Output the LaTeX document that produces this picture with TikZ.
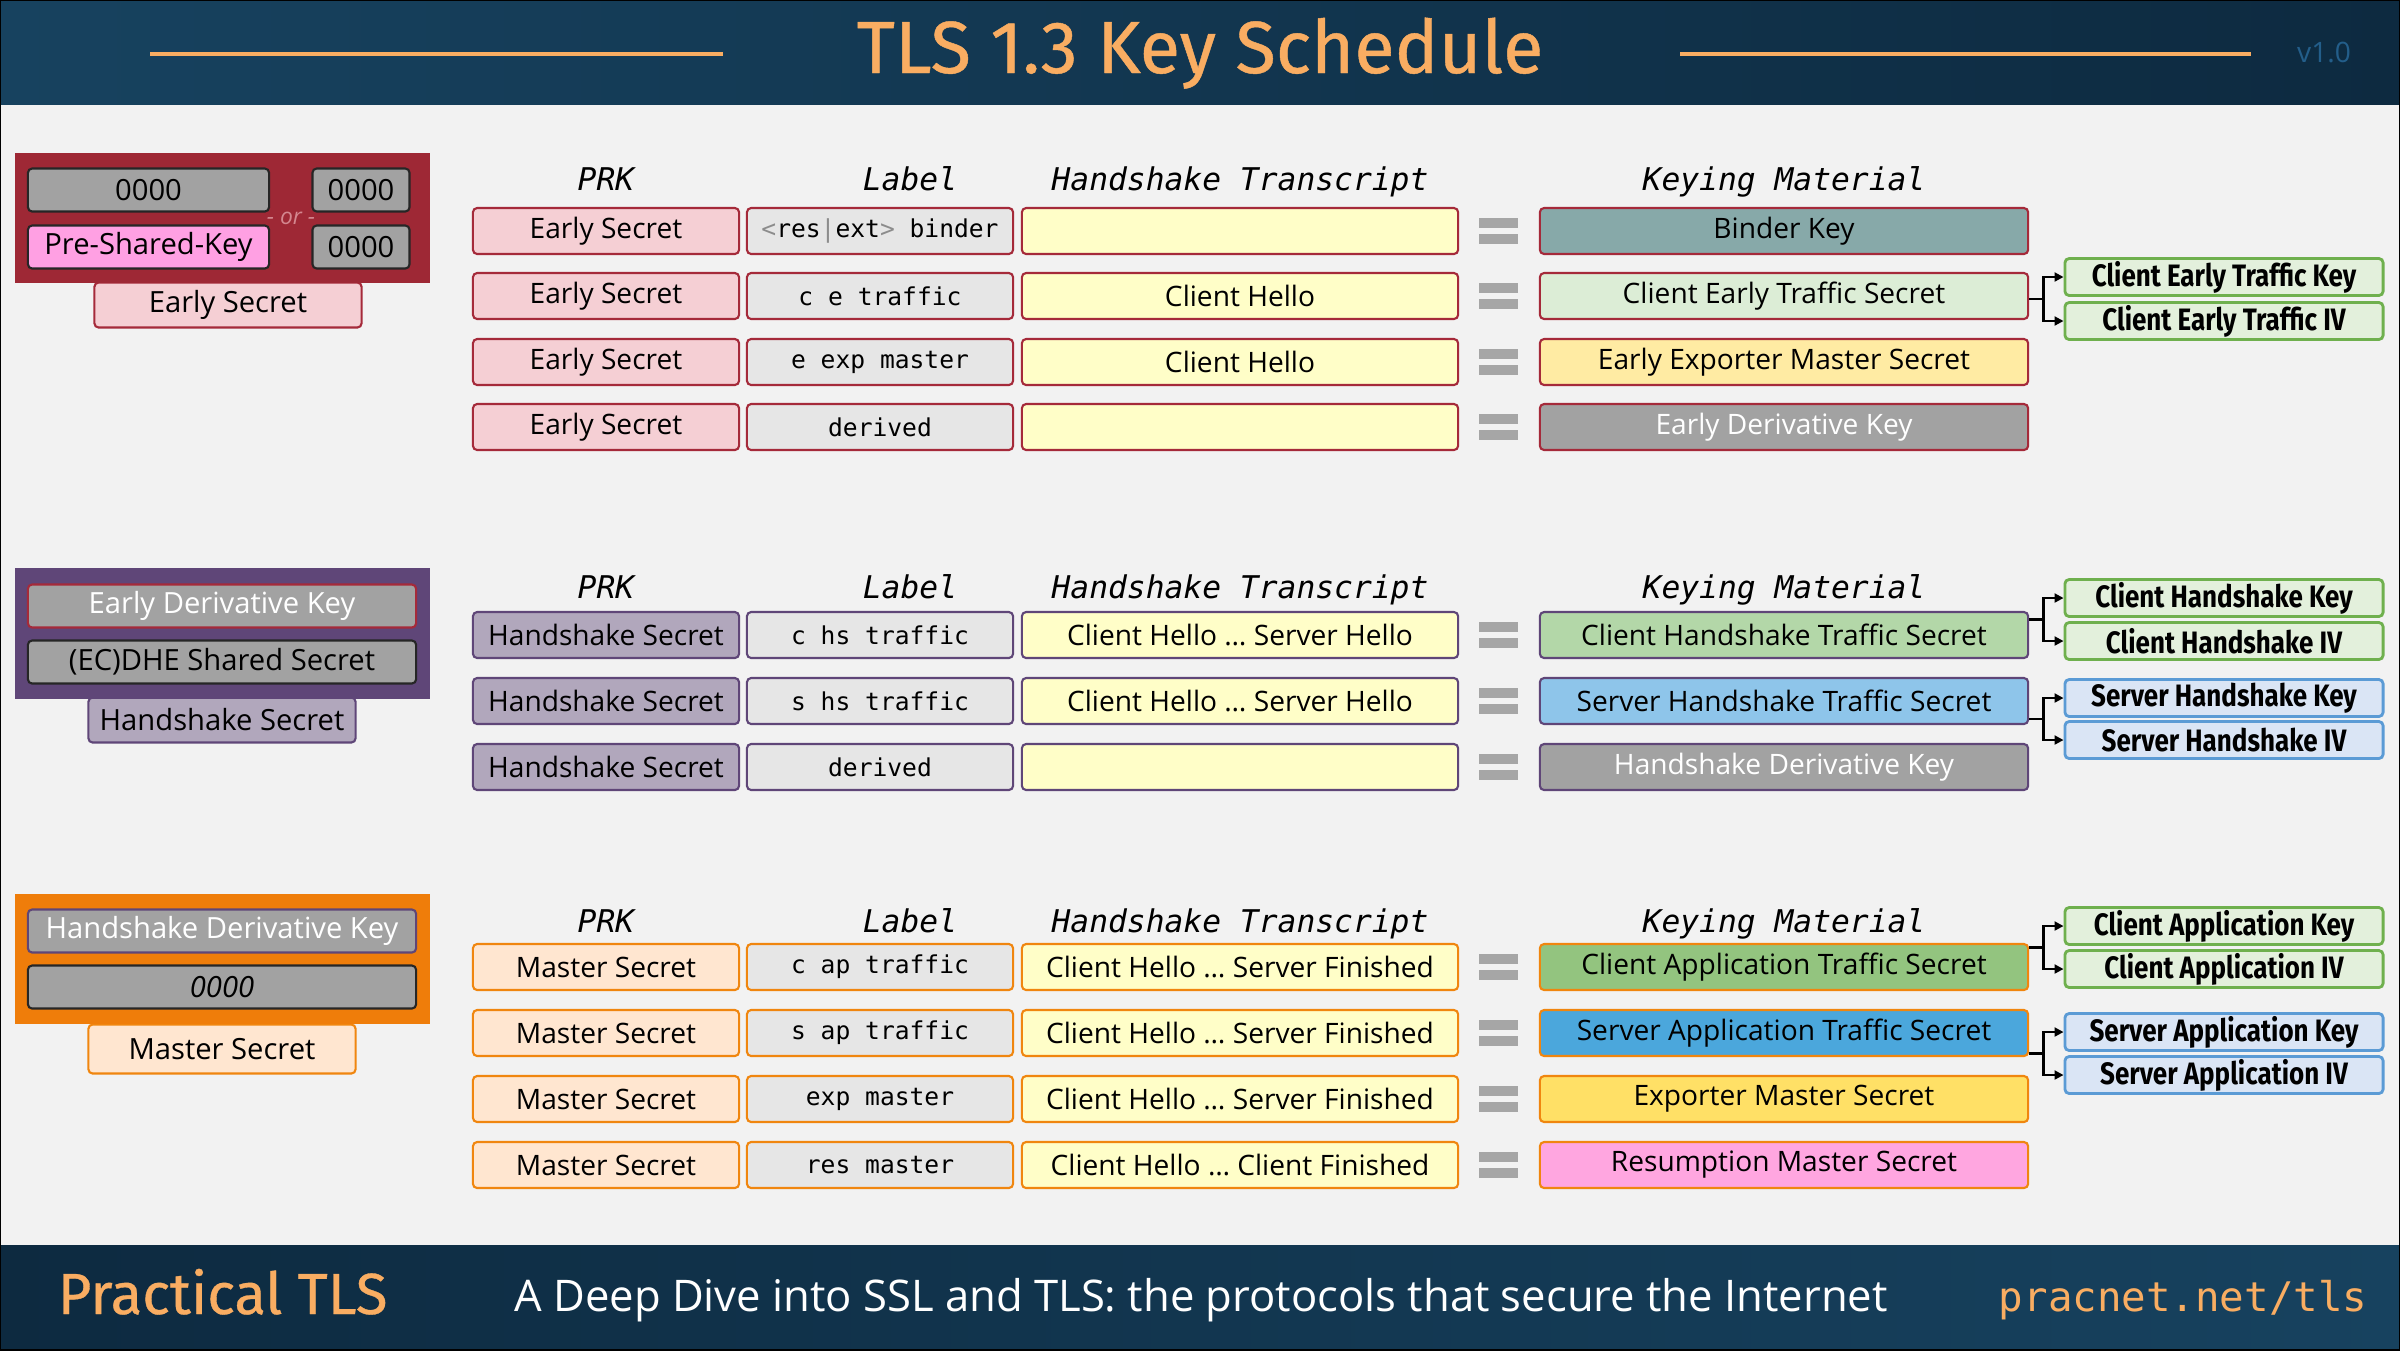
\documentclass[tikz,border=0pt]{standalone}
\usepackage{fontspec}
\setmainfont{Open Sans}
\newfontfamily\titlefont{Fira Sans}[FakeBold=0.6]
\newfontfamily\codefont{DejaVu Sans Mono}
\newfontfamily\keyfont{Fira Sans}[FakeStretch=0.84]
\usetikzlibrary{arrows.meta, positioning, calc}
\definecolor{hdrL}{HTML}{17425F}
\definecolor{hdrR}{HTML}{0D2A40}
\definecolor{tlsorange}{HTML}{F9AD62}
\definecolor{verblue}{HTML}{235E8A}
\definecolor{pagebg}{HTML}{F2F2F2}
\definecolor{esred}{HTML}{A52A3A}
\definecolor{esgroup}{HTML}{9E2835}
\definecolor{esfill}{HTML}{F5CFD4}
\definecolor{hspurple}{HTML}{5F4678}
\definecolor{hsfill}{HTML}{B1A7BC}
\definecolor{msorange}{HTML}{F0860F}
\definecolor{msgroup}{HTML}{EF7D0A}
\definecolor{msfill}{HTML}{FFE6D0}
\definecolor{lblfill}{HTML}{E6E6E6}
\definecolor{tscfill}{HTML}{FFFEC8}
\definecolor{binderc}{HTML}{87A9A9}
\definecolor{cetsc}{HTML}{DCEDD6}
\definecolor{eemsc}{HTML}{FFEBA3}
\definecolor{derivc}{HTML}{A2A2A2}
\definecolor{chtsc}{HTML}{B3D7A8}
\definecolor{shtsc}{HTML}{8EC5EA}
\definecolor{catsc}{HTML}{93C47F}
\definecolor{satsc}{HTML}{4BA7DC}
\definecolor{emsc}{HTML}{FFE066}
\definecolor{rmsc}{HTML}{FFA6E0}
\definecolor{pskc}{HTML}{FFA0E3}
\definecolor{keygreen}{HTML}{E3F0DC}
\definecolor{keygreenb}{HTML}{6FB04E}
\definecolor{keyblue}{HTML}{DAE5F5}
\definecolor{keyblueb}{HTML}{5B9BD5}
\definecolor{eqgray}{HTML}{A6A6A6}
\definecolor{orgray}{HTML}{D4878F}
\tikzset{
  cell/.style={draw, rounded corners=1.2pt, line width=0.6pt, minimum height=0.46cm,
               inner sep=0pt, font=\fontsize{8}{9}\selectfont},
  prkbox/.style={cell, minimum width=2.66cm},
  lblbox/.style={cell, fill=lblfill, minimum width=2.66cm, font=\codefont\fontsize{7}{8}\selectfont},
  tscbox/.style={cell, fill=tscfill, minimum width=4.36cm},
  kmbox/.style={cell, minimum width=4.88cm},
  keybox/.style={draw, rounded corners=1.2pt, line width=0.8pt, minimum width=3.18cm,
                 minimum height=0.37cm, inner sep=0pt, font=\keyfont\bfseries\fontsize{8.8}{9}\selectfont},
  gkey/.style={keybox, draw=keygreenb, fill=keygreen},
  bkey/.style={keybox, draw=keyblueb, fill=keyblue},
  colhead/.style={anchor=base, inner sep=0pt, font=\codefont\itshape\fontsize{8.9}{10}\selectfont},
  grpbox/.style={draw=none, minimum width=4.15cm, minimum height=1.30cm, inner sep=0pt},
  inbox/.style={draw=black!85, rounded corners=1.2pt, line width=0.6pt, fill=derivc, inner sep=0pt,
                minimum height=0.43cm, font=\fontsize{8.3}{9}\selectfont},
  outbox/.style={draw, rounded corners=1.2pt, line width=0.6pt, minimum width=2.67cm,
                 minimum height=0.45cm, inner sep=0pt, font=\fontsize{8.3}{9}\selectfont},
  splitarr/.style={-{Triangle[length=0.09cm,width=0.09cm]}, line width=0.6pt, black},
}

\begin{document}
\begin{tikzpicture}[x=0.01cm, y=-0.01cm]
  \useasboundingbox (0,0) rectangle (2400,1350);
  \fill[pagebg] (0,0) rectangle (2400,1350);

  % header and footer bands
  \shade[left color=hdrL, right color=hdrR] (0,0) rectangle (2400,104);
  \shade[left color=hdrR, right color=hdrL] (0,1245) rectangle (2400,1350);
  \node[anchor=base, inner sep=0pt, text=tlsorange, font=\titlefont\fontsize{21}{24}\selectfont]
    (title) at (1200,73) {TLS 1.3 Key Schedule};
  \draw[tlsorange, line width=1.4pt] (150,54) -- (723,54);
  \draw[tlsorange, line width=1.4pt] (1680,54) -- (2251,54);
  \node[anchor=base, inner sep=0pt, text=verblue, font=\fontsize{8}{9}\selectfont]
    (version) at (2324,62) {v1.0};
  \node[anchor=base west, inner sep=0pt, text=tlsorange, font=\titlefont\fontsize{16.5}{20}\selectfont]
    (book) at (57,1314) {Practical TLS};
  \node[anchor=base, inner sep=0pt, text=white, font=\fontsize{12.4}{14}\selectfont]
    (tagline) at (1201,1311) {A Deep Dive into SSL and TLS: the protocols that secure the Internet};
  \node[anchor=base east, inner sep=0pt, text=tlsorange, font=\codefont\fontsize{11.6}{14}\selectfont]
    (url) at (2368,1311) {pracnet.net/tls};

  % column headings
  \foreach \s/\y in {es/190, hs/598, ms/932} {
    \node[colhead] (\s-h1) at (606,\y) {PRK};
    \node[colhead] (\s-h2) at (910,\y) {Label};
    \node[colhead] (\s-h3) at (1240,\y) {Handshake Transcript};
    \node[colhead] (\s-h4) at (1784,\y) {Keying Material};
  }

  % equals signs
  \foreach \y in {231,296,362,427,635,701,767,967,1033,1099,1165} {
    \fill[eqgray] (1479,\y-13) rectangle (1518,\y-3);
    \fill[eqgray] (1479,\y+3) rectangle (1518,\y+13);
  }

  % early secret
  \node[outbox, draw=esred, fill=esfill] (es-out) at (228,305) {Early Secret};
  \node[grpbox, fill=esgroup] (es-grp) at (222.5,218) {};
  \node[inbox, minimum width=2.41cm] (es-z1) at (148.5,190) {0000};
  \node[inbox, minimum width=0.97cm] (es-z2) at (361,190) {0000};
  \node[inbox, fill=pskc, minimum width=2.41cm] (es-psk) at (148.5,247) {Pre-Shared-Key};
  \node[inbox, minimum width=0.97cm] (es-z3) at (361,247) {0000};
  \node[inner sep=0pt, text=orgray, font=\itshape\fontsize{6.5}{8}\selectfont] (es-or) at (291,218) {- or -};
  \foreach \n/\y/\lbl/\hs/\km/\kmc/\kmt in {
    1/231/{{\color{black!45}<}res{\color{black!45}|}ext{\color{black!45}>} binder}/{}/Binder Key/binderc/black,
    2/296/c e traffic/Client Hello/Client Early Traffic Secret/cetsc/black,
    3/362/e exp master/Client Hello/Early Exporter Master Secret/eemsc/black,
    4/427/derived/{}/Early Derivative Key/derivc/white} {
    \node[prkbox, draw=esred, fill=esfill] (es-p\n) at (606,\y) {Early Secret};
    \node[lblbox, draw=esred] (es-l\n) at (880,\y) {\lbl};
    \node[tscbox, draw=esred] (es-t\n) at (1240,\y) {\hs};
    \node[kmbox, draw=esred, fill=\kmc, text=\kmt] (es-k\n) at (1784,\y) {\km};
  }

  % handshake secret
  \node[outbox, draw=hspurple, fill=hsfill] (hs-out) at (222,720) {Handshake Secret};
  \node[grpbox, fill=hspurple] (hs-grp) at (222.5,633.5) {};
  \node[inbox, draw=esred, text=white, minimum width=3.88cm] (hs-edk) at (222,606) {Early Derivative Key};
  \node[inbox, minimum width=3.88cm] (hs-dhe) at (222,662) {(EC)DHE Shared Secret};
  \foreach \n/\y/\lbl/\hs/\km/\kmc/\kmt in {
    1/635/c hs traffic/Client Hello \dots{} Server Hello/Client Handshake Traffic Secret/chtsc/black,
    2/701/s hs traffic/Client Hello \dots{} Server Hello/Server Handshake Traffic Secret/shtsc/black,
    3/767/derived/{}/Handshake Derivative Key/derivc/white} {
    \node[prkbox, draw=hspurple, fill=hsfill] (hs-p\n) at (606,\y) {Handshake Secret};
    \node[lblbox, draw=hspurple] (hs-l\n) at (880,\y) {\lbl};
    \node[tscbox, draw=hspurple] (hs-t\n) at (1240,\y) {\hs};
    \node[kmbox, draw=hspurple, fill=\kmc, text=\kmt] (hs-k\n) at (1784,\y) {\km};
  }

  % master secret
  \node[outbox, draw=msorange, fill=msfill, minimum height=0.49cm] (ms-out) at (222,1049) {Master Secret};
  \node[grpbox, fill=msgroup] (ms-grp) at (222.5,959) {};
  \node[inbox, draw=hspurple, text=white, minimum width=3.88cm] (ms-hdk) at (222,931) {Handshake Derivative Key};
  \node[inbox, minimum width=3.88cm, font=\itshape\fontsize{8.3}{9}\selectfont] (ms-zero) at (222,987) {0000};
  \foreach \n/\y/\lbl/\hs/\km/\kmc in {
    1/967/c ap traffic/Client Hello \dots{} Server Finished/Client Application Traffic Secret/catsc,
    2/1033/s ap traffic/Client Hello \dots{} Server Finished/Server Application Traffic Secret/satsc,
    3/1099/exp master/Client Hello \dots{} Server Finished/Exporter Master Secret/emsc,
    4/1165/res master/Client Hello \dots{} Client Finished/Resumption Master Secret/rmsc} {
    \node[prkbox, draw=msorange, fill=msfill] (ms-p\n) at (606,\y) {Master Secret};
    \node[lblbox, draw=msorange] (ms-l\n) at (880,\y) {\lbl};
    \node[tscbox, draw=msorange] (ms-t\n) at (1240,\y) {\hs};
    \node[kmbox, draw=msorange, fill=\kmc] (ms-k\n) at (1784,\y) {\km};
  }

  % traffic keys and IVs
  \node[gkey] (cetk) at (2224,277) {Client Early Traffic Key};
  \node[gkey] (ceti) at (2224,321) {Client Early Traffic IV};
  \node[gkey] (chk) at (2224,598) {Client Handshake Key};
  \node[gkey] (chi) at (2224,641) {Client Handshake IV};
  \node[bkey] (shk) at (2224,698) {Server Handshake Key};
  \node[bkey] (shi) at (2224,740) {Server Handshake IV};
  \node[gkey] (cak) at (2224,926) {Client Application Key};
  \node[gkey] (cai) at (2224,969) {Client Application IV};
  \node[bkey] (sak) at (2224,1032) {Server Application Key};
  \node[bkey] (sai) at (2224,1075) {Server Application IV};
  \foreach \k/\a/\b in {es-k2/cetk/ceti, hs-k1/chk/chi, hs-k2/shk/shi, ms-k1/cak/cai, ms-k2/sak/sai} {
    \coordinate (j) at ($(\a.west)!0.5!(\b.west) + (-20,0)$);
    \draw[splitarr] (\k.east |- j) -- (j) |- (\a.west);
    \draw[splitarr] (j) |- (\b.west);
  }

  \draw[black, line width=0.8pt] (0,0) rectangle (2400,1350);
\end{tikzpicture}
\end{document}
